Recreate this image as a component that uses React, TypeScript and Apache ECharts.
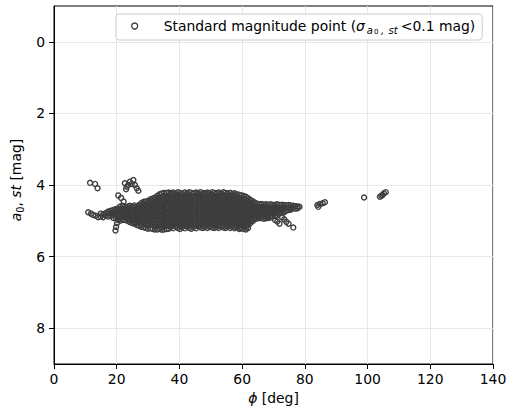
import React, { useEffect, useRef } from "react";
import * as echarts from "echarts";

const xTicks = [0, 20, 40, 60, 80, 100, 120, 140];
const yTicks = [0, 2, 4, 6, 8];
const seriesName = "Standard magnitude point";

// isolated points [phi, a0]
const isolated: [number, number][] = [
  [11.5, 3.94], [13.1, 3.97], [13.9, 4.09],
  [22.6, 3.95], [23.2, 4.05], [23.0, 4.12], [24.2, 3.91], [25.3, 3.86], [25.8, 4.0],
  [26.4, 4.09], [26.9, 4.16], [23.7, 4.0], [24.8, 3.97],
  [20.5, 4.29], [21.4, 4.36], [22.2, 4.46], [20.1, 5.07], [19.8, 5.17], [19.6, 5.27],
  [84.3, 4.61], [84.0, 4.56], [84.8, 4.53], [85.7, 4.51], [86.4, 4.48],
  [98.9, 4.35],
  [103.95, 4.33], [104.4, 4.3], [104.8, 4.28], [105.2, 4.23], [105.8, 4.2],
];

// dense body, by column: [phi, a0 values]
const columns: [number, number[]][] = [
  [10.9, [4.76]], [11.8, [4.8]], [12.5, [4.84]], [13.3, [4.86]], [14.1, [4.9]],
  [14.9, [4.88, 4.8]], [15.7, [4.9, 4.82]], [16.5, [4.85, 4.78]],
  [17.3, [4.8, 4.74, 4.88]], [18.1, [4.78, 4.72, 4.86]], [18.9, [4.76, 4.7, 4.84, 4.92]],
  [19.6, [4.74, 4.8, 4.9, 4.68]], [20.3, [4.72, 4.82, 4.9, 4.66, 4.98]],
  [21.1, [4.6, 4.7, 4.78, 4.86, 4.95, 5.0]],
  [21.9, [4.58, 4.66, 4.73, 4.81, 4.9, 4.97]],
  [22.6, [4.6, 4.67, 4.74, 4.82, 4.9, 4.98]],
  [23.4, [4.61, 4.68, 4.76, 4.84, 4.92, 5.0]],
  [24.1, [4.58, 4.65, 4.73, 4.81, 4.89, 4.97, 5.03]],
  [24.9, [4.6, 4.68, 4.76, 4.84, 4.92, 5.0, 5.06]],
  [25.6, [4.57, 4.64, 4.72, 4.8, 4.88, 4.96, 5.04, 5.08]],
  [26.4, [4.59, 4.66, 4.74, 4.82, 4.9, 4.98, 5.06, 5.12]],
  [27.1, [4.56, 4.63, 4.71, 4.8, 4.88, 4.96, 5.04, 5.14]],
  [27.9, [4.5, 4.57, 4.64, 4.72, 4.8, 4.88, 4.96, 5.04, 5.11, 5.17]],
  [28.6, [4.47, 4.53, 4.62, 4.69, 4.77, 4.84, 4.94, 5.0, 5.09, 5.18]],
  [29.3, [4.46, 4.54, 4.6, 4.69, 4.75, 4.85, 4.91, 5.02, 5.1, 5.2]],
  [30.0, [4.44, 4.5, 4.58, 4.65, 4.73, 4.81, 4.89, 4.97, 5.06, 5.14, 5.22]],
  [30.8, [4.4, 4.47, 4.55, 4.63, 4.7, 4.78, 4.87, 4.95, 5.03, 5.12, 5.21]],
  [31.5, [4.38, 4.45, 4.55, 4.61, 4.69, 4.79, 4.85, 4.96, 5.04, 5.1, 5.23]],
  [32.2, [4.35, 4.42, 4.5, 4.6, 4.66, 4.75, 4.84, 4.91, 5.0, 5.09, 5.17, 5.24]],
  [33.0, [4.3, 4.39, 4.47, 4.56, 4.63, 4.73, 4.81, 4.9, 4.98, 5.07, 5.15, 5.24]],
  [33.7, [4.26, 4.35, 4.44, 4.52, 4.61, 4.7, 4.77, 4.87, 4.94, 5.04, 5.12, 5.22]],
  [34.4, [4.24, 4.33, 4.42, 4.5, 4.59, 4.66, 4.76, 4.84, 4.93, 5.01, 5.1, 5.19, 5.25]],
  [35.1, [4.22, 4.31, 4.4, 4.48, 4.57, 4.65, 4.74, 4.82, 4.91, 4.99, 5.08, 5.16, 5.24]],
  [35.9, [4.22, 4.3, 4.39, 4.47, 4.55, 4.64, 4.72, 4.8, 4.89, 4.98, 5.06, 5.14, 5.23]],
  [36.6, [4.21, 4.29, 4.38, 4.46, 4.54, 4.63, 4.71, 4.8, 4.88, 4.97, 5.05, 5.13, 5.22]],
  [37.3, [4.24, 4.33, 4.41, 4.5, 4.58, 4.67, 4.75, 4.84, 4.92, 5.0, 5.09, 5.17]],
  [38.0, [4.21, 4.28, 4.37, 4.45, 4.53, 4.62, 4.7, 4.78, 4.87, 4.95, 5.04, 5.12, 5.21]],
  [38.8, [4.23, 4.31, 4.4, 4.49, 4.57, 4.66, 4.74, 4.83, 4.91, 5.0, 5.08, 5.16]],
  [39.5, [4.2, 4.27, 4.36, 4.44, 4.52, 4.61, 4.69, 4.77, 4.86, 4.94, 5.02, 5.11, 5.2]],
  [40.2, [4.22, 4.3, 4.39, 4.48, 4.56, 4.64, 4.73, 4.81, 4.9, 4.98, 5.07, 5.15, 5.23]],
  [40.9, [4.25, 4.34, 4.42, 4.51, 4.6, 4.68, 4.76, 4.85, 4.93, 5.01, 5.1, 5.18]],
  [41.7, [4.21, 4.29, 4.37, 4.46, 4.54, 4.63, 4.71, 4.79, 4.88, 4.96, 5.05, 5.13, 5.21]],
  [42.4, [4.23, 4.32, 4.4, 4.49, 4.57, 4.66, 4.74, 4.82, 4.91, 4.99, 5.08, 5.16]],
  [43.1, [4.2, 4.28, 4.36, 4.45, 4.53, 4.61, 4.7, 4.78, 4.87, 4.95, 5.03, 5.12, 5.2]],
  [43.8, [4.22, 4.31, 4.39, 4.47, 4.56, 4.64, 4.73, 4.81, 4.89, 4.98, 5.06, 5.14, 5.22]],
  [44.6, [4.24, 4.33, 4.41, 4.5, 4.58, 4.67, 4.75, 4.84, 4.92, 5.01, 5.09, 5.17]],
  [45.3, [4.21, 4.29, 4.38, 4.46, 4.55, 4.63, 4.72, 4.8, 4.88, 4.97, 5.05, 5.13, 5.21]],
  [46.0, [4.23, 4.31, 4.4, 4.48, 4.57, 4.65, 4.73, 4.82, 4.9, 4.99, 5.07, 5.15]],
  [46.7, [4.2, 4.27, 4.35, 4.44, 4.52, 4.61, 4.69, 4.78, 4.86, 4.94, 5.03, 5.11, 5.19]],
  [47.5, [4.22, 4.3, 4.39, 4.47, 4.56, 4.64, 4.72, 4.81, 4.89, 4.98, 5.06, 5.14, 5.2]],
  [48.2, [4.24, 4.33, 4.41, 4.5, 4.58, 4.66, 4.75, 4.83, 4.92, 5.0, 5.08, 5.17]],
  [48.9, [4.21, 4.28, 4.37, 4.45, 4.54, 4.62, 4.71, 4.79, 4.87, 4.96, 5.04, 5.12, 5.2]],
  [49.6, [4.23, 4.32, 4.4, 4.49, 4.57, 4.65, 4.74, 4.82, 4.91, 4.99, 5.07, 5.16]],
  [50.4, [4.2, 4.27, 4.36, 4.44, 4.53, 4.61, 4.69, 4.78, 4.86, 4.95, 5.03, 5.11, 5.19]],
  [51.1, [4.22, 4.3, 4.38, 4.47, 4.55, 4.64, 4.72, 4.8, 4.89, 4.97, 5.06, 5.14, 5.2]],
  [51.8, [4.24, 4.33, 4.42, 4.5, 4.59, 4.67, 4.76, 4.84, 4.92, 5.01, 5.09, 5.17]],
  [52.5, [4.21, 4.29, 4.37, 4.46, 4.54, 4.63, 4.71, 4.79, 4.88, 4.96, 5.04, 5.13, 5.2]],
  [53.3, [4.23, 4.31, 4.4, 4.48, 4.57, 4.65, 4.74, 4.82, 4.9, 4.99, 5.07, 5.15]],
  [54.0, [4.2, 4.28, 4.36, 4.45, 4.53, 4.62, 4.7, 4.78, 4.87, 4.95, 5.04, 5.12, 5.19]],
  [54.7, [4.22, 4.3, 4.39, 4.47, 4.56, 4.64, 4.73, 4.81, 4.89, 4.98, 5.06, 5.14, 5.2]],
  [55.4, [4.24, 4.32, 4.41, 4.49, 4.58, 4.66, 4.74, 4.83, 4.91, 5.0, 5.08, 5.16]],
  [56.2, [4.22, 4.29, 4.38, 4.46, 4.55, 4.63, 4.71, 4.8, 4.88, 4.97, 5.05, 5.13, 5.2]],
  [56.9, [4.25, 4.33, 4.42, 4.5, 4.58, 4.67, 4.75, 4.84, 4.92, 5.0, 5.09, 5.17]],
  [57.6, [4.23, 4.31, 4.39, 4.48, 4.56, 4.65, 4.73, 4.81, 4.9, 4.98, 5.07, 5.15, 5.21]],
  [58.3, [4.26, 4.34, 4.43, 4.51, 4.6, 4.68, 4.76, 4.85, 4.93, 5.02, 5.1, 5.18]],
  [59.1, [4.27, 4.35, 4.44, 4.52, 4.61, 4.69, 4.77, 4.86, 4.94, 5.03, 5.11, 5.19, 5.23]],
  [59.8, [4.29, 4.37, 4.46, 4.54, 4.62, 4.71, 4.79, 4.88, 4.96, 5.04, 5.13, 5.21]],
  [60.5, [4.31, 4.39, 4.48, 4.56, 4.65, 4.73, 4.81, 4.9, 4.98, 5.07, 5.15, 5.23]],
  [61.2, [4.33, 4.41, 4.5, 4.58, 4.66, 4.75, 4.83, 4.92, 5.0, 5.08, 5.17, 5.24]],
  [61.9, [4.37, 4.45, 4.53, 4.62, 4.7, 4.79, 4.87, 4.95, 5.04, 5.12, 5.2]],
  [62.6, [4.41, 4.49, 4.57, 4.66, 4.74, 4.83, 4.91, 4.99, 5.07]],
  [63.3, [4.45, 4.53, 4.61, 4.7, 4.78, 4.86, 4.95, 5.01]],
  [64.0, [4.49, 4.57, 4.65, 4.73, 4.82, 4.9, 4.96]],
  [64.7, [4.52, 4.6, 4.68, 4.77, 4.85, 4.93]],
  [65.4, [4.54, 4.62, 4.71, 4.79, 4.87, 4.93]],
  [66.2, [4.53, 4.61, 4.69, 4.78, 4.86, 4.92]],
  [66.9, [4.55, 4.63, 4.72, 4.8, 4.88, 4.94]],
  [67.6, [4.54, 4.62, 4.7, 4.79, 4.87, 4.93]],
  [68.3, [4.55, 4.63, 4.71, 4.8, 4.88, 4.92]],
  [69.1, [4.54, 4.62, 4.7, 4.78, 4.86, 4.91]],
  [69.8, [4.56, 4.64, 4.72, 4.8, 4.88]],
  [70.5, [4.55, 4.63, 4.71, 4.79, 4.86, 4.98]],
  [71.2, [4.54, 4.62, 4.7, 4.78, 4.84, 5.02]],
  [71.9, [4.56, 4.64, 4.72, 4.8, 5.08]],
  [72.7, [4.55, 4.63, 4.7, 4.77, 4.9]],
  [73.4, [4.56, 4.63, 4.71, 4.76, 4.96]],
  [74.1, [4.57, 4.64, 4.72, 5.03]],
  [74.8, [4.56, 4.63, 4.7, 5.08]],
  [75.5, [4.57, 4.64, 4.69]],
  [76.3, [4.58, 4.65, 5.19]],
  [77.0, [4.59, 4.66]],
  [77.7, [4.6, 4.65]],
  [78.3, [4.61]],
];

const FONT = "DejaVu Sans";
const FS = 13.9;
const INK = "#3d3d3d";

export default function App() {
  const ref = useRef<HTMLDivElement>(null);
  useEffect(() => {
    const chart = echarts.init(ref.current!, null, { renderer: "svg" });
    const points: [number, number][] = [];
    for (const [x, ys] of columns) for (const y of ys) points.push([x, y]);
    for (const p of isolated) points.push(p);

    chart.setOption({
      animation: false,
      backgroundColor: "#ffffff",
      textStyle: { fontFamily: FONT },
      grid: {
        left: 54, right: 26, top: 6, bottom: 51,
        show: true, borderColor: "#000", borderWidth: 1,
      },
      legend: {
        left: 116, top: 14,
        padding: [5, 7, 5, 15],
        itemWidth: 6, itemHeight: 6,
        icon: "circle",
        itemStyle: { color: "rgba(255,255,255,0)", borderColor: INK, borderWidth: 1.3 },
        backgroundColor: "rgba(255,255,255,0.85)",
        borderColor: "#cccccc", borderWidth: 1, borderRadius: 3,
        data: [seriesName],
        formatter: () =>
          "{p|Standard magnitude point (}{g|σ}{s|a}{ss|0}{sc|,}{st|st}{n|<0.1 mag)}",
        textStyle: {
          rich: {
            p: { fontFamily: FONT, fontSize: FS, color: "#000", lineHeight: 18, padding: [0, 0, 0, 21] },
            n: { fontFamily: FONT, fontSize: FS, color: "#000", lineHeight: 18 },
            g: { fontFamily: FONT, fontSize: FS, color: "#000", fontStyle: "italic", lineHeight: 18, padding: [0, 2, 0, 0] },
            s: { fontFamily: FONT, fontSize: 10, color: "#000", fontStyle: "italic", lineHeight: 11, verticalAlign: "bottom", padding: [0, 1, 0, 0] },
            st: { fontFamily: FONT, fontSize: 10, color: "#000", fontStyle: "italic", lineHeight: 11, verticalAlign: "bottom", padding: [0, 3, 0, 0] },
            ss: { fontFamily: FONT, fontSize: 7, color: "#000", lineHeight: 8, verticalAlign: "bottom", padding: [0, 2, 0, 0] },
            sc: { fontFamily: FONT, fontSize: 10, color: "#000", lineHeight: 11, verticalAlign: "bottom", padding: [0, 5, 0, 0] },
          },
        },
      },
      xAxis: {
        type: "value", min: 0, max: 140, interval: 20,
        axisLine: { show: true, onZero: false, lineStyle: { color: "#000", width: 1 } },
        axisTick: { show: true, length: 5, customValues: xTicks, lineStyle: { color: "#000", width: 1 } },
        axisLabel: { color: "#000", fontSize: FS, fontFamily: FONT, margin: 8, customValues: xTicks },
        splitLine: { show: true, lineStyle: { color: "#e8e8e8", width: 1 } },
        name: "{i|ϕ}{n| [deg]}",
        nameLocation: "middle",
        nameGap: 26,
        nameTextStyle: {
          rich: {
            i: { fontFamily: FONT, fontSize: FS, color: "#000", fontStyle: "italic" },
            n: { fontFamily: FONT, fontSize: FS, color: "#000" },
          },
        },
      },
      yAxis: {
        type: "value", min: -1, max: 9, inverse: true,
        axisLine: { show: true, onZero: false, lineStyle: { color: "#000", width: 1 } },
        axisTick: { show: true, length: 5, customValues: yTicks, lineStyle: { color: "#000", width: 1 } },
        axisLabel: { color: "#000", fontSize: FS, fontFamily: FONT, margin: 9, customValues: yTicks },
        splitLine: { show: true, lineStyle: { color: "#e8e8e8", width: 1 } },
        name: "{i|a}{s|0}{n|, }{i|st}{n| [mag]}",
        nameLocation: "middle",
        nameRotate: 90,
        nameGap: 20,
        nameTextStyle: {
          padding: [0, 0, 0, 10],
          rich: {
            i: { fontFamily: FONT, fontSize: FS, color: "#000", fontStyle: "italic", lineHeight: 18 },
            n: { fontFamily: FONT, fontSize: FS, color: "#000", lineHeight: 18 },
            s: { fontFamily: FONT, fontSize: 9.7, color: "#000", lineHeight: 11, verticalAlign: "bottom" },
          },
        },
      },
      series: [
        {
          name: seriesName,
          type: "scatter",
          data: points,
          symbol: "circle",
          symbolSize: 5,
          itemStyle: { color: "rgba(255,255,255,0)", borderColor: INK, borderWidth: 1.4, opacity: 1 },
          emphasis: { disabled: true },
        },
      ],
    });
    return () => chart.dispose();
  }, []);
  return <div ref={ref} style={{ position: "absolute", left: 0, top: 0, width: 519, height: 415 }} />;
}
